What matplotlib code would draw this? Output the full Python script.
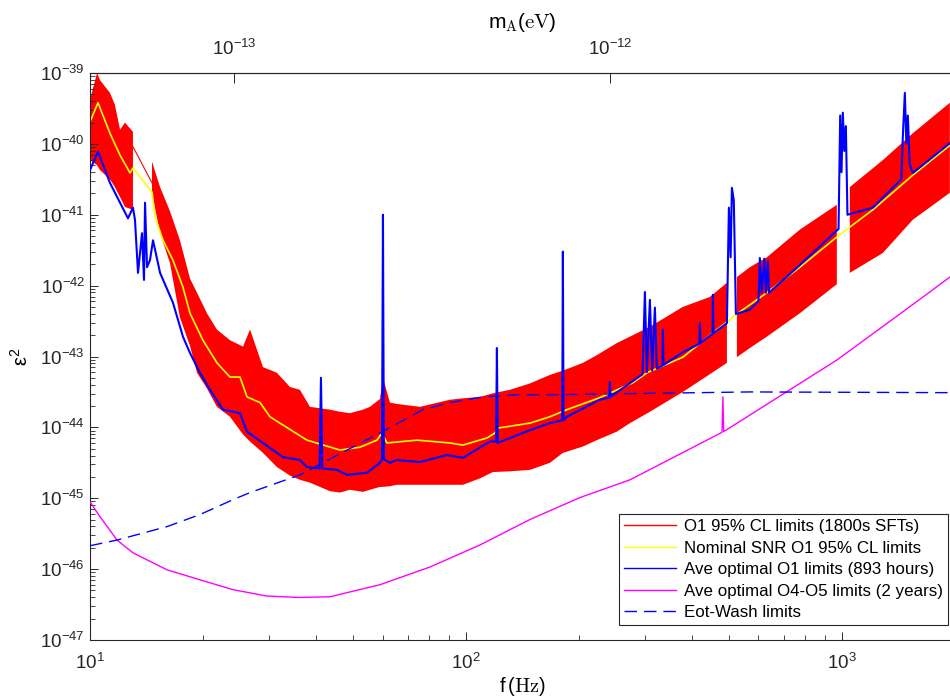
import numpy as np
import matplotlib
matplotlib.use('Agg')
import matplotlib.pyplot as plt
from matplotlib.ticker import (LogLocator, NullLocator, FixedLocator,
                               LogFormatterSciNotation)

plt.rcParams['font.family'] = ['Liberation Sans', 'DejaVu Sans']
plt.rcParams['mathtext.fontset'] = 'custom'
plt.rcParams['mathtext.rm'] = 'Liberation Sans'
plt.rcParams['mathtext.it'] = 'Liberation Sans:italic'
plt.rcParams['mathtext.default'] = 'regular'

# ---- data (frequency in Hz, epsilon^2 as log10) ----
# O1 95% CL limits (1800s SFTs): envelope of the red band, NaN = gap
red_f = [10.0, 10.44, 10.63, 11.30, 11.65, 12.02, 12.39, 13.01, 13.8,
         14.62, 15.36, 16.32, 17.35, 18.45, 19.26, 20.47, 21.76, 23.57, 25.53,
         26.65, 28.85, 31.43, 34.03, 36.18, 38.47, 43.48, 46.23, 49.16, 53.22,
         55.56, 59.07, 60.16, 62.80, 65.55, 75.46, 90.67, 98.17, 108.9, 118.0,
         130.9, 148.0, 167.3, 181.1, 204.8, 223.1, 252.1, 273.1, 308.6, 377.7,
         445.6, 494.6, 510.0, 525.8, 569.2, 631.8, 773.2, 969.8, 1015.0, 1050.0,
         1285.0, 1545.0, 1938.0]
red_hi = [-39.38, -39.00, -39.10, -39.28, -39.45, -39.80, -39.70, -39.83, np.nan,
          -40.25, -40.61, -40.95, -41.36, -41.90, -42.10, -42.39, -42.62, -42.77, -42.86,
          -42.62, -43.15, -43.23, -43.43, -43.47, -43.71, -43.75, -43.78, -43.80, -43.75,
          -43.71, -43.60, -43.30, -43.65, -43.67, -43.71, -43.61, -43.59, -43.57, -43.52,
          -43.47, -43.38, -43.26, -43.20, -43.09, -42.98, -42.81, -42.72, -42.58, -42.30,
          -42.16, -41.96, np.nan, -41.88, -41.74, -41.60, -41.21, -40.86, np.nan, -40.61,
          -40.23, -39.85, -39.42]
red_lo = [-40.23, -40.30, -40.37, -40.50, -40.61, -40.75, -40.89, -40.93, np.nan,
          -40.69, -41.26, -41.68, -42.45, -42.85, -43.23, -43.45, -43.71, -43.85, -44.10,
          -44.20, -44.36, -44.56, -44.68, -44.74, -44.78, -44.90, -44.92, -44.88, -44.91,
          -44.88, -44.84, -44.84, -44.83, -44.81, -44.81, -44.81, -44.81, -44.72, -44.63,
          -44.62, -44.60, -44.50, -44.36, -44.27, -44.18, -44.06, -43.94, -43.78, -43.50,
          -43.25, -43.09, np.nan, -43.01, -42.88, -42.72, -42.39, -41.98, np.nan, -41.82,
          -41.54, -41.07, -40.69]
red_join_f = [13.01, 14.62]
red_join = [-40.04, -40.55]

# Nominal SNR O1 95% CL limits
yel_f = [10.0, 10.50, 11.30, 12.02, 12.78, 13.01, 14.62, 14.89, 15.64, 16.62,
         17.67, 18.45, 19.97, 21.76, 23.57, 25.06, 26.16, 28.33, 30.11, 32.01,
         37.77, 46.23, 52.25, 57.99, 59.79, 61.65, 74.08, 90.67, 98.17, 113.7,
         119.4, 121.6, 148.0, 167.3, 185.6, 227.2, 278.1, 303.0, 377.7, 465.3,
         503.8, 513.1, 631.8, 773.2, 987.9, 1209.0, 1545.0, 1938.0]
yel = [-39.69, -39.42, -39.85, -40.16, -40.41, -40.34, -40.68, -41.03, -41.36, -41.64,
       -42.02, -42.39, -42.77, -43.09, -43.29, -43.29, -43.57, -43.65, -43.85, -43.94,
       -44.18, -44.32, -44.28, -44.18, -44.08, -44.22, -44.18, -44.22, -44.25, -44.15,
       -44.08, -44.01, -43.94, -43.85, -43.75, -43.58, -43.37, -43.23, -43.01, -42.62,
       -42.48, -42.44, -42.10, -41.74, -41.28, -40.93, -40.44, -40.02]

# Ave optimal O1 limits (893 hours)
blu_f = [10.0, 10.50, 11.30, 12.02, 12.62, 13.01, 13.17, 13.42, 13.75, 13.92,
         14.01, 14.18, 14.44, 14.71, 15.36, 16.62, 17.67, 18.45, 19.61, 20.85,
         22.58, 25.06, 26.16, 28.85, 32.60, 36.18, 37.77, 40.8, 41.15, 41.5,
         45.39, 48.26, 54.55, 59.07, 59.8, 60.16, 60.5, 62.80, 65.55, 75.46,
         89.02, 98.17, 115.8, 120.3, 120.9, 121.5, 148.0, 167.3, 180.4, 181.1,
         181.8, 185.6, 227.2, 240.5, 241.5, 242.5, 295.0, 299.3, 303.0, 308.6,
         313.0, 318.2, 322.0, 333.0, 334.2, 335.5, 377.7, 418.0, 419.1, 420.5,
         453.0, 454.0, 455.5, 494.6, 500.7, 506.0, 510.0, 516.0, 522.6, 569.2,
         600.0, 605.2, 612.0, 622.0, 628.0, 635.7, 640.0, 773.2, 980.0, 990.0,
         998.0, 1006.0, 1015.0, 1025.0, 1035.0, 1209.0, 1440.0, 1453.0, 1471.0, 1485.0,
         1498.0, 1517.0, 1545.0, 1938.0]
blu = [-40.37, -40.11, -40.55, -40.83, -41.05, -40.90, -41.07, -41.82, -41.26, -41.92,
       -40.83, -41.74, -41.64, -41.36, -41.82, -42.24, -42.72, -42.95, -43.23, -43.47,
       -43.75, -43.80, -44.06, -44.22, -44.42, -44.46, -44.56, -44.58, -43.30, -44.58,
       -44.60, -44.67, -44.64, -44.50, -44.45, -41.00, -44.45, -44.50, -44.46, -44.49,
       -44.39, -44.43, -44.20, -44.20, -42.88, -44.22, -44.04, -43.94, -43.90, -41.52,
       -43.90, -43.85, -43.61, -43.58, -43.36, -43.57, -43.25, -42.09, -43.22, -42.20,
       -43.20, -42.31, -43.17, -43.13, -42.62, -43.12, -42.94, -42.82, -42.53, -42.81,
       -42.68, -42.13, -42.67, -42.53, -40.90, -41.60, -40.62, -40.80, -42.40, -42.34,
       -42.22, -41.61, -42.10, -41.62, -42.10, -41.65, -42.10, -41.71, -41.20, -39.60,
       -40.40, -39.56, -40.10, -39.75, -41.00, -40.90, -40.50, -39.90, -39.28, -40.00,
       -39.60, -40.30, -40.41, -39.99]

# Ave optimal O4-O5 limits (2 years)
mag_f = [10.0, 10.63, 11.80, 13.01, 16.03, 19.61, 24.01, 29.56, 36.18, 43.48,
         59.07, 80.23, 108.9, 148.0, 201.1, 273.1, 480.0, 482.6, 485.0, 969.8,
         1453.0, 1938.0]
mag = [-45.05, -45.26, -45.59, -45.77, -46.01, -46.15, -46.29, -46.38, -46.40, -46.39,
       -46.22, -45.97, -45.66, -45.30, -44.99, -44.74, -44.07, -43.57, -44.06, -43.05,
       -42.37, -41.88]

# Eot-Wash limits
eot_f = [10.0, 11.80, 16.03, 19.61, 24.01, 26.65, 36.18, 47.1, 59.07, 76.85,
         90.67, 111.0, 136.6, 167.3, 569.2, 1938.0]
eot = [-45.67, -45.59, -45.40, -45.23, -45.02, -44.92, -44.67, -44.35, -44.08, -43.75,
       -43.65, -43.57, -43.54, -43.54, -43.50, -43.51]

# tick positions
x_ticks = [10, 100, 1000]
y_ticks = [1e-47, 1e-46, 1e-45, 1e-44, 1e-43, 1e-42, 1e-41, 1e-40, 1e-39]
m_ticks = [1e-13, 1e-12]

h_eV = 4.1357e-15  # Planck constant, eV s


def f2m(f):
    return np.asarray(f) * h_eV


def m2f(m):
    return np.asarray(m) / h_eV


def p(v):
    return 10.0 ** np.asarray(v, dtype=float)


fig = plt.figure(figsize=(9.5, 7), dpi=100)
ax = fig.add_axes([90 / 950, 60 / 700, 865 / 950, 567 / 700])
ax.set_xscale('log')
ax.set_yscale('log')

ax.fill_between(red_f, p(red_lo), p(red_hi), color='#ff0000', lw=0, zorder=1)
l_red, = ax.plot(red_join_f, p(red_join), color='#ff0000', lw=0.8, zorder=1,
                 label='O1 95% CL limits (1800s SFTs)')
l_yel, = ax.plot(yel_f, p(yel), color='#ffff00', lw=1.2, zorder=2,
                 label='Nominal SNR O1 95% CL limits')
l_blu, = ax.plot(blu_f, p(blu), color='#0000ff', lw=1.5, zorder=3,
                 label='Ave optimal O1 limits (893 hours)')
l_mag, = ax.plot(mag_f, p(mag), color='#ff00ff', lw=1.0, zorder=4,
                 label='Ave optimal O4-O5 limits (2 years)')
l_eot, = ax.plot(eot_f, p(eot), color='#0000ff', lw=1.0, ls=(0, (9, 5)), zorder=5,
                 label='Eot-Wash limits')

ax.set_xlim(10, 2000)
ax.set_ylim(1e-47, 1e-39)
ax.xaxis.set_major_locator(FixedLocator(x_ticks))
ax.yaxis.set_major_locator(FixedLocator(y_ticks))
ax.yaxis.set_minor_locator(LogLocator(base=10, subs=np.arange(2, 10), numticks=20))
ax.xaxis.set_major_formatter(LogFormatterSciNotation())
ax.yaxis.set_major_formatter(LogFormatterSciNotation())
ax.tick_params(which='both', direction='in', top=False, right=False,
               labelsize=13.5, colors='#262626')
ax.tick_params(which='major', length=6, width=0.7)
ax.tick_params(which='minor', length=3.5, width=0.6)
ax.tick_params(axis='x', which='major', pad=9)
for s in ax.spines.values():
    s.set_color('#262626')
    s.set_linewidth(0.8)

sec = ax.secondary_xaxis('top', functions=(f2m, m2f))
sec.xaxis.set_major_locator(FixedLocator(m_ticks))
sec.xaxis.set_minor_locator(NullLocator())
sec.xaxis.set_major_formatter(LogFormatterSciNotation())
sec.tick_params(direction='in', length=7, width=0.7, labelsize=13.5, pad=10,
                colors='#262626')
sec.spines['top'].set_color('#262626')

ax.set_xlabel(r'$f\,(\mathrm{Hz})$', fontsize=14.5, math_fontfamily='cm', labelpad=2)
ax.set_ylabel(r'$\epsilon^2$', fontsize=14.5, math_fontfamily='cm', labelpad=6)
sec.set_xlabel(r'$m_{\mathrm{A}}(\mathrm{eV})$', fontsize=15, math_fontfamily='cm',
               labelpad=8)

leg = ax.legend(handles=[l_red, l_yel, l_blu, l_mag, l_eot], loc='lower right',
                bbox_to_anchor=(0.992, 0.026), borderaxespad=0, fontsize=12.2,
                fancybox=False, framealpha=1, edgecolor='#262626',
                handlelength=3.1, handletextpad=0.45, labelspacing=0.38,
                borderpad=0.3)
leg.get_frame().set_linewidth(0.8)
for ln in leg.get_lines():
    ln.set_linewidth(1.0)

fig.savefig('out.png', dpi=100)
